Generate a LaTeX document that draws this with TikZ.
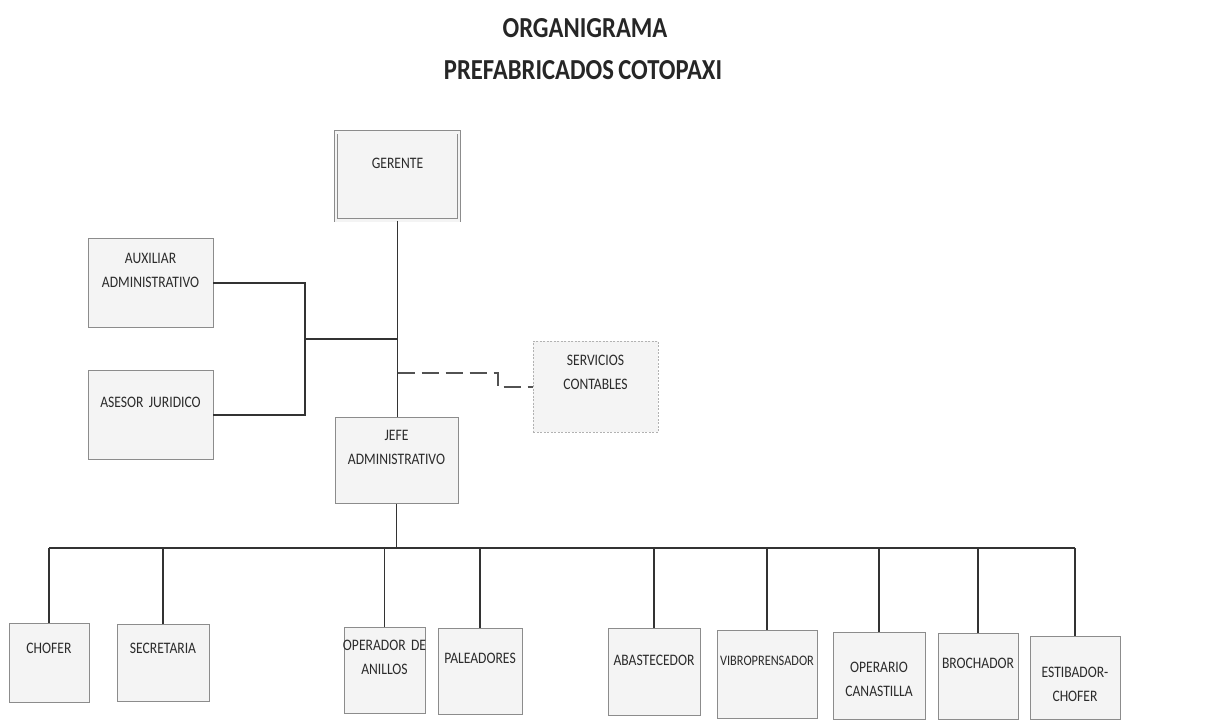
\documentclass[tikz,border=0pt]{standalone}
\usepackage{fontspec}
\setmainfont{Carlito}[FakeStretch=0.85, WordSpace=0.8]

\definecolor{linegray}{HTML}{333333}
\definecolor{boxfill}{HTML}{F4F4F4}
\definecolor{boxline}{HTML}{8C8C8C}
\definecolor{textgray}{HTML}{2B2B2B}

\tikzset{
  title/.style={font=\bfseries\fontsize{29}{34}\selectfont, text=black!85},
  box/.style={draw=boxline, fill=boxfill, line width=0.8pt, anchor=north,
    inner xsep=-8pt, inner ysep=0pt, align=center, text=textgray,
    font=\fontsize{16}{24}\selectfont},
  boxh/.style 2 args={text height=#1pt, text depth=#2pt},
  link/.style={draw=linegray, line width=1.6pt},
  dashlink/.style={draw=linegray!85, line width=2pt, dash pattern=on 17pt off 7pt}
}

\begin{document}
\begin{tikzpicture}[x=1pt, y=-1pt]

\useasboundingbox (0,0) rectangle (1211,720);

% Title
\node[title] (titulo1) at (585, 28) {ORGANIGRAMA};
\node[title] (titulo2) at (583, 70) {PREFABRICADOS COTOPAXI};

% Direction
\node[box, double=boxfill, double distance=2.5pt, text width=139pt, boxh={36}{52}] (gerente) at (397.5, 132) {GERENTE};
\node[box, text width=141pt, boxh={25}{64}] (auxiliar) at (150.5, 238) {AUXILIAR\\ADMINISTRATIVO};
\node[box, text width=141pt, boxh={37}{52}] (asesor) at (150.5, 370) {ASESOR JURIDICO};
\node[box, draw=gray!60, line width=0.7pt, dash pattern=on 2pt off 1.5pt, text width=141pt, boxh={24}{67}] (servicios) at (595.5, 341) {SERVICIOS\\CONTABLES};
\node[box, text width=139pt, boxh={23}{63}] (jefe) at (396.5, 417) {JEFE\\ADMINISTRATIVO};

% Staff
\node[box, text width=96pt, boxh={30}{49}] (chofer) at (49, 623) {CHOFER};
\node[box, text width=108pt, boxh={29}{48}] (secretaria) at (163, 624) {SECRETARIA};
\node[box, text width=97pt, boxh={23}{63}] (operador) at (384.5, 627) {OPERADOR DE\\ANILLOS};
\node[box, text width=100pt, boxh={35}{51}] (paleadores) at (480, 628) {PALEADORES};
\node[box, text width=108pt, boxh={37}{50}] (abastecedor) at (654, 628) {ABASTECEDOR};
\node[box, font=\fontsize{14.5}{24}\selectfont, text width=116pt, boxh={35}{53}] (vibro) at (767, 630) {VIBROPRENSADOR};
\node[box, text width=108pt, boxh={40}{47}] (operario) at (879, 632) {OPERARIO\\CANASTILLA};
\node[box, text width=96pt, boxh={35}{51}] (brochador) at (978, 633) {BROCHADOR};
\node[box, text width=106pt, boxh={41}{42}] (estibador) at (1075, 636) {ESTIBADOR-\\CHOFER};

% Upper links
\draw[link] (gerente.south) -- (gerente.south |- jefe.north);
\coordinate (staff) at (305, 339);
\draw[link] (auxiliar.east) -| (staff) |- (asesor.east);
\draw[link] (staff) -- (staff -| gerente.south);
\coordinate (dbend) at (498, 373);
\draw[dashlink] (dbend -| gerente.south) -- (dbend) |- (servicios.west);

% Bus to staff
\coordinate (bus) at (396.5, 548);
\draw[link] (jefe.south) -- (jefe.south |- bus);
\draw[link] (chofer.north |- bus) -- (estibador.north |- bus);
\draw[link] (chofer.north |- bus) -- (chofer.north);
\draw[link] (secretaria.north |- bus) -- (secretaria.north);
\draw[link] (operador.north |- bus) -- (operador.north);
\draw[link] (paleadores.north |- bus) -- (paleadores.north);
\draw[link] (abastecedor.north |- bus) -- (abastecedor.north);
\draw[link] (vibro.north |- bus) -- (vibro.north);
\draw[link] (operario.north |- bus) -- (operario.north);
\draw[link] (brochador.north |- bus) -- (brochador.north);
\draw[link] (estibador.north |- bus) -- (estibador.north);

\end{tikzpicture}
\end{document}
